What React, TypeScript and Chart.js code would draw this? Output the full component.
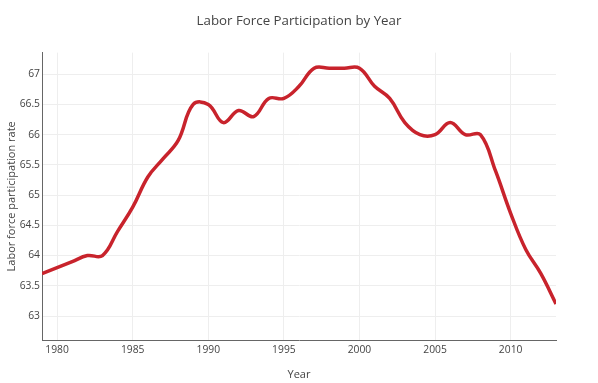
import React, { useEffect, useRef } from "react";
import { Chart, registerables } from "chart.js";

Chart.register(...registerables);

const years: number[] = [
  1979, 1980, 1981, 1982, 1983, 1984, 1985, 1986, 1987, 1988, 1989, 1990,
  1991, 1992, 1993, 1994, 1995, 1996, 1997, 1998, 1999, 2000, 2001, 2002,
  2003, 2004, 2005, 2006, 2007, 2008, 2009, 2010, 2011, 2012, 2013,
];
const participation: number[] = [
  63.7, 63.8, 63.9, 64.0, 64.0, 64.4, 64.8, 65.3, 65.6, 65.9, 66.5, 66.5,
  66.2, 66.4, 66.3, 66.6, 66.6, 66.8, 67.1, 67.1, 67.1, 67.1, 66.8, 66.6,
  66.2, 66.0, 66.0, 66.2, 66.0, 66.0, 65.4, 64.7, 64.1, 63.7, 63.2,
];
const xTicks: number[] = [1980, 1985, 1990, 1995, 2000, 2005, 2010];
const yTicks: number[] = [63, 63.5, 64, 64.5, 65, 65.5, 66, 66.5, 67];

const FONT = "'Open Sans', 'Noto Sans', sans-serif";

export default function App() {
  const ref = useRef<HTMLCanvasElement | null>(null);

  useEffect(() => {
    if (!ref.current) return;
    const chart = new Chart(ref.current, {
      type: "line",
      data: {
        datasets: [
          {
            data: years.map((x, i) => ({ x, y: participation[i] })),
            borderColor: "#c8232c",
            borderWidth: 3.5,
            pointRadius: 0,
            tension: 0.4,
            fill: false,
            yAxisID: "y",
          },
        ],
      },
      options: {
        animation: false,
        responsive: false,
        layout: { padding: 0 },
        plugins: {
          legend: { display: false },
          tooltip: { enabled: false },
          title: {
            display: true,
            text: "Labor Force Participation by Year",
            color: "#444",
            font: { family: FONT, size: 13.3, weight: "normal" },
            padding: { top: 13, bottom: 23.7 },
          },
        },
        scales: {
          x: {
            type: "linear",
            min: 1979,
            max: 2013,
            afterBuildTicks: (s: any) => {
              s.ticks = xTicks.map((v) => ({ value: v }));
            },
            afterFit: (s: any) => {
              s.height = 43;
            },
            grid: { color: "#eee", drawTicks: false },
            border: { color: "#666", width: 1 },
            ticks: {
              color: "#444",
              padding: 4,
              font: { family: FONT, size: 10.3 },
              callback: (v: any) => String(v),
            },
            title: {
              display: true,
              text: "Year",
              color: "#444",
              font: { family: FONT, size: 11 },
              padding: { top: 0, bottom: 2 },
            },
          },
          y: {
            type: "linear",
            position: "left",
            min: 62.603,
            max: 67.357,
            afterBuildTicks: (s: any) => {
              s.ticks = yTicks.map((v) => ({ value: v }));
            },
            afterFit: (s: any) => {
              s.width = 42;
            },
            grid: { color: "#eee", drawTicks: false },
            border: { color: "#666", width: 1 },
            ticks: {
              color: "#444",
              padding: 2,
              font: { family: FONT, size: 10.3 },
              callback: (v: any) => String(v),
            },
            title: {
              display: true,
              text: "Labor force participation rate",
              color: "#444",
              font: { family: FONT, size: 11 },
              padding: { top: 5, bottom: 0 },
            },
          },
          yRight: {
            type: "linear",
            position: "right",
            display: true,
            min: 0,
            max: 1,
            afterFit: (s: any) => {
              s.width = 42;
            },
            grid: { display: false, drawTicks: false },
            border: { display: false },
            ticks: { display: false },
          },
        },
      },
    });
    return () => chart.destroy();
  }, []);

  return (
    <div
      style={{
        position: "fixed",
        left: 0,
        top: 0,
        width: 598,
        height: 383,
        background: "#fff",
      }}
    >
      <canvas
        ref={ref}
        width={598}
        height={383}
        style={{ display: "block", width: 598, height: 383 }}
      />
    </div>
  );
}
